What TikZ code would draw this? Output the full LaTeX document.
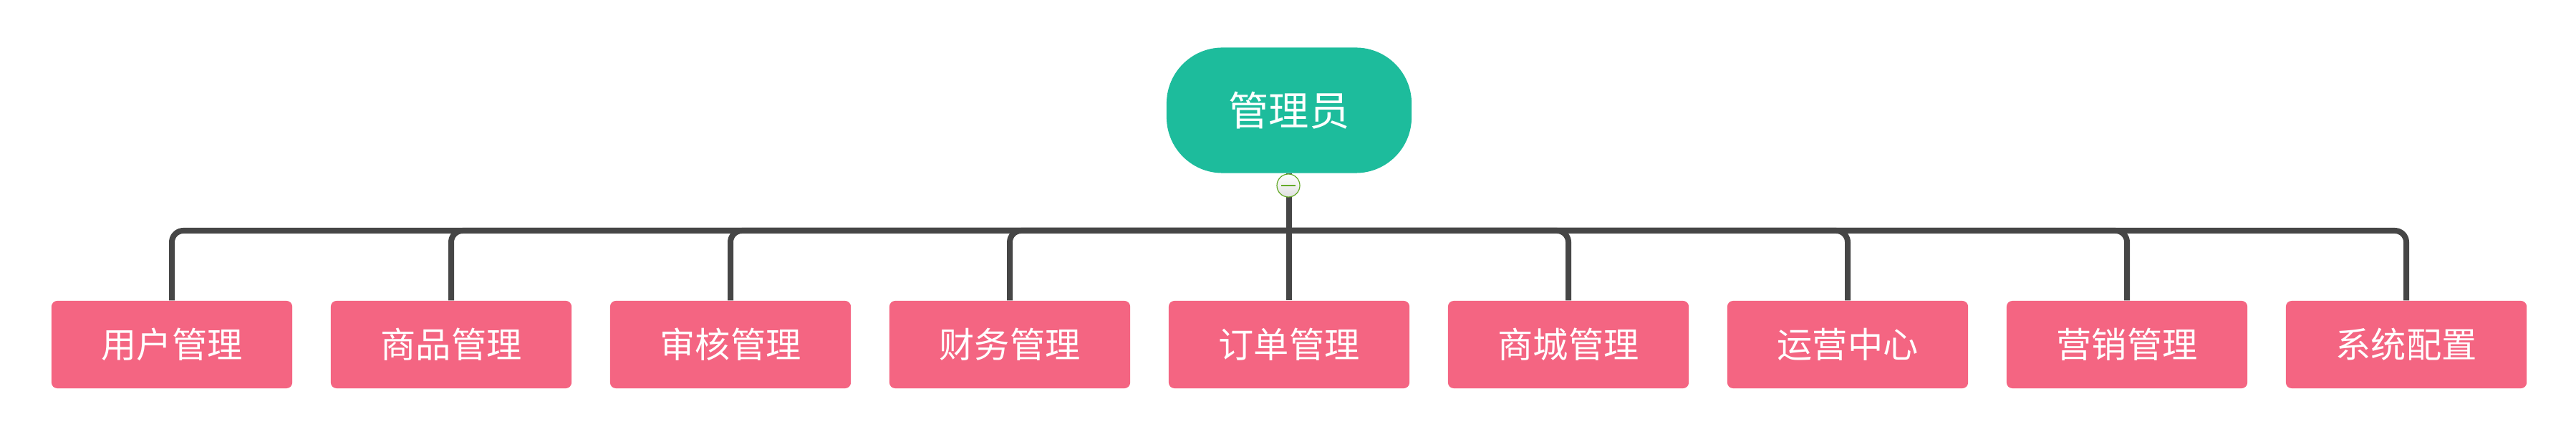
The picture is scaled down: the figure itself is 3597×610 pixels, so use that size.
\documentclass[tikz,border=0pt]{standalone}
\usepackage{fontspec}
\newfontfamily\cjk{Noto Sans CJK SC}
\definecolor{rootgreen}{RGB}{29,188,156}
\definecolor{leafpink}{RGB}{244,101,130}
\definecolor{linkgray}{RGB}{70,70,70}
\definecolor{foldgreen}{RGB}{100,170,40}
\tikzset{
  rootbox/.style={fill=rootgreen, text=white, rounded corners=0.78cm, minimum width=3.42cm, minimum height=1.75cm, inner sep=0pt, font=\cjk\fontsize{16}{19}\selectfont},
  leafbox/.style={fill=leafpink, text=white, rounded corners=0.08cm, minimum width=3.36cm, minimum height=1.22cm, inner sep=0pt, font=\cjk\fontsize{14}{17}\selectfont},
  link/.style={draw=linkgray, line width=0.08cm, rounded corners=0.16cm},
  foldbtn/.style={circle, draw=foldgreen, line width=0.012cm, top color=white, bottom color=black!12, minimum size=0.32cm, inner sep=0pt},
}
\begin{document}
\begin{tikzpicture}[x=0.01cm, y=-0.01cm]
\useasboundingbox (0,0) rectangle (3597,610);

\node[rootbox] (admin) at (1800,154) {管理员};

\node[leafbox] (user) at (240,481) {用户管理};
\node[leafbox] (goods) at (630,481) {商品管理};
\node[leafbox] (audit) at (1020,481) {审核管理};
\node[leafbox] (finance) at (1410,481) {财务管理};
\node[leafbox] (order) at (1800,481) {订单管理};
\node[leafbox] (mall) at (2190,481) {商城管理};
\node[leafbox] (ops) at (2580,481) {运营中心};
\node[leafbox] (market) at (2970,481) {营销管理};
\node[leafbox] (config) at (3360,481) {系统配置};

\coordinate (bus) at (1800,322);
\path[link] (admin.south) -- (bus);
\path[link] (bus) -| (user.north);
\path[link] (bus) -| (goods.north);
\path[link] (bus) -| (audit.north);
\path[link] (bus) -| (finance.north);
\path[link] (bus) -- (order.north);
\path[link] (bus) -| (mall.north);
\path[link] (bus) -| (ops.north);
\path[link] (bus) -| (market.north);
\path[link] (bus) -| (config.north);

\node[foldbtn] (fold) at (1799,259) {};
\draw[foldgreen, line width=0.02cm] ([xshift=-0.1cm]fold.center) -- ([xshift=0.1cm]fold.center);
\end{tikzpicture}
\end{document}
